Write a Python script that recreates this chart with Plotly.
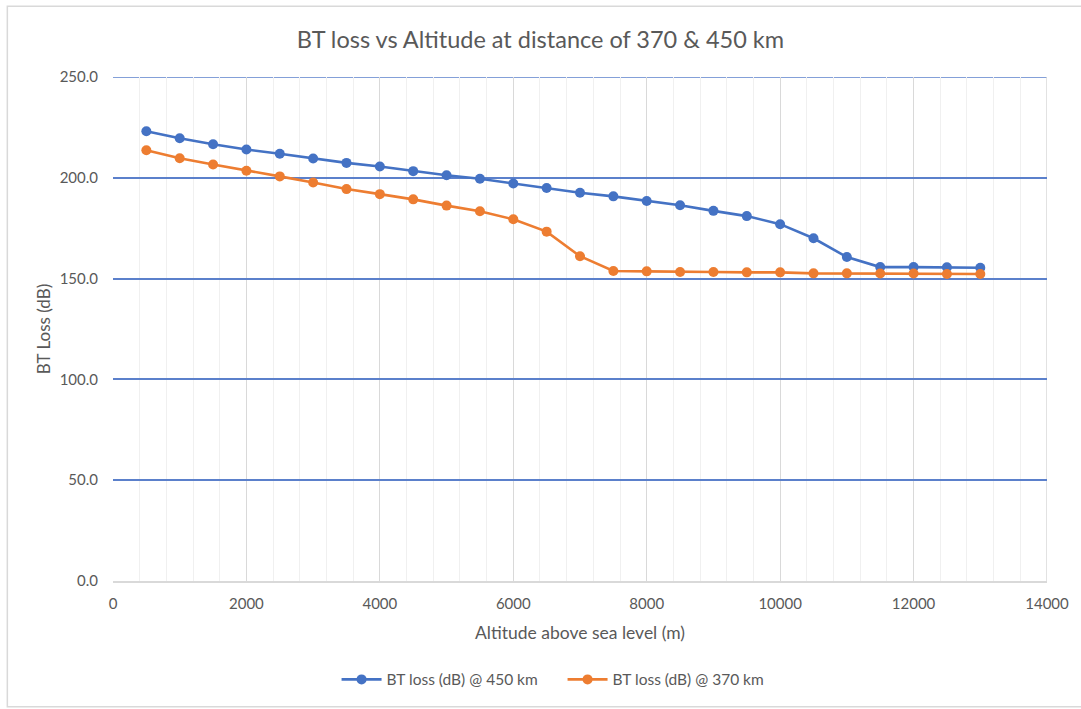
import plotly.graph_objects as go

# Altitude above sea level (m)
altitude = [500, 1000, 1500, 2000, 2500, 3000, 3500, 4000, 4500, 5000, 5500, 6000, 6500,
            7000, 7500, 8000, 8500, 9000, 9500, 10000, 10500, 11000, 11500, 12000, 12500, 13000]

# BT loss (dB) at 450 km
loss_450 = [223.1, 219.6, 216.6, 214.0, 211.9, 209.6, 207.4, 205.6, 203.3, 201.3, 199.5, 197.2, 194.9,
            192.6, 190.8, 188.5, 186.4, 183.6, 181.0, 177.0, 170.0, 160.7, 155.7, 155.7, 155.6, 155.4]

# BT loss (dB) at 370 km
loss_370 = [213.7, 209.7, 206.6, 203.5, 200.7, 197.7, 194.4, 191.9, 189.3, 186.2, 183.4, 179.4, 173.3,
            161.1, 153.8, 153.6, 153.3, 153.3, 153.1, 153.1, 152.6, 152.6, 152.5, 152.5, 152.3, 152.3]

series = [
    ("BT loss (dB) @ 450 km", loss_450, "#4472C4"),
    ("BT loss (dB) @ 370 km", loss_370, "#ED7D31"),
]

X_MAX, Y_MAX = 14000, 250

FONT = "Lato, Calibri, sans-serif"
TEXT = "#595959"
GRID_Y = "#5B80CB"
GRID_X = "#D9D9D9"

fig = go.Figure()
for name, vals, color in series:
    fig.add_trace(go.Scatter(
        x=altitude, y=vals, name=name, mode="lines+markers",
        line=dict(color=color, width=2.6),
        marker=dict(color=color, size=10),
    ))

W, H = 1081, 709
L, R, T, B = 113, 31, 77, 127
pw, ph = W - L - R, H - T - B

def px_x(p):
    return (p - L) / pw

def px_y(p):
    return (H - B - p) / ph

fig.update_layout(
    width=W, height=H,
    margin=dict(l=L, r=R, t=T, b=B),
    paper_bgcolor="white", plot_bgcolor="white",
    font=dict(family=FONT, color=TEXT, size=15),
    title=dict(text="BT loss vs Altitude at distance of 370 & 450 km",
               x=0.5, xanchor="center", y=1 - 40 / H, yanchor="middle",
               font=dict(size=23.5, color=TEXT, family=FONT)),
    legend=dict(orientation="h", x=px_x(564), xanchor="center", y=px_y(681), yanchor="middle",
                font=dict(size=15.5, color=TEXT), itemwidth=40, tracegroupgap=0,
                entrywidth=171),
    showlegend=True,
    shapes=[
        # chart frame
        dict(type="rect", xref="paper", yref="paper",
             x0=px_x(7), x1=px_x(1090), y0=px_y(708), y1=px_y(6),
             line=dict(color="#D9D9D9", width=1.5), layer="below"),
        # gridlines at the far ends of both axes
        dict(type="line", xref="paper", yref="y", x0=0, x1=1, y0=Y_MAX, y1=Y_MAX,
             line=dict(color=GRID_Y, width=1.5), layer="below"),
        dict(type="line", xref="x", yref="paper", x0=X_MAX, x1=X_MAX, y0=0, y1=1,
             line=dict(color=GRID_X, width=1.5), layer="below"),
    ],
)

fig.update_xaxes(
    range=[0, X_MAX], dtick=2000, tick0=0, tickformat="d",
    showgrid=True, gridcolor=GRID_X, gridwidth=1.3,
    minor=dict(dtick=400, showgrid=True, gridcolor="#F0F0F0", gridwidth=1.3),
    showline=True, linecolor="#D9D9D9", linewidth=1.5,
    zeroline=False, ticks="", ticklabelstandoff=8,
    tickfont=dict(size=15, color=TEXT),
    title=dict(text="Altitude above sea level (m)", font=dict(size=17.5, color=TEXT), standoff=16),
)
fig.update_yaxes(
    range=[0, Y_MAX], dtick=50, tick0=0, tickformat=".1f",
    showgrid=True, gridcolor=GRID_Y, gridwidth=1.5,
    showline=False, zeroline=False, ticks="", ticklabelstandoff=14,
    tickfont=dict(size=15, color=TEXT),
    title=dict(text="BT Loss (dB)", font=dict(size=17, color=TEXT), standoff=4),
)

fig.write_html("out.html")
